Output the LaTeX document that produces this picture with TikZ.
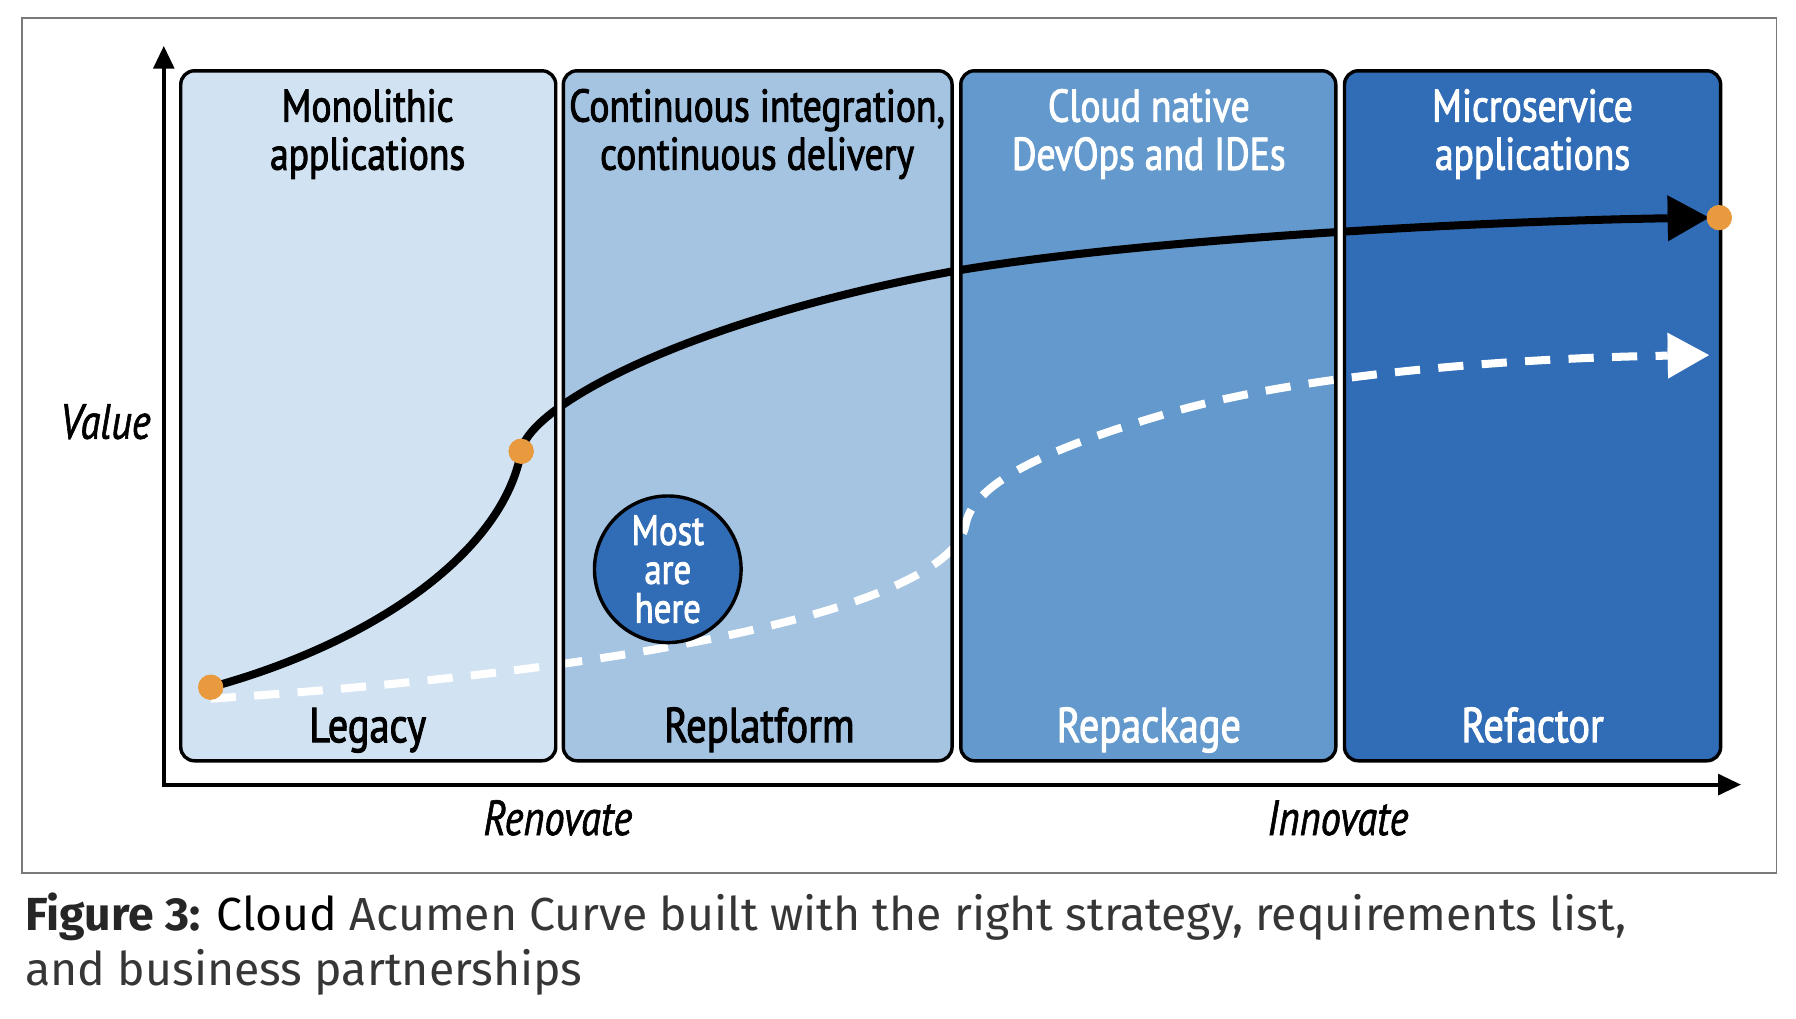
\documentclass[tikz,border=0pt]{standalone}
\usepackage{fontspec}
\usetikzlibrary{arrows.meta}
\newfontfamily\diag[FakeStretch=0.82, FakeBold=2]{PT Sans}
\newfontfamily\diagit[FakeStretch=0.82, FakeBold=1.2]{PT Sans Italic}
\newfontfamily\capfont{Fira Sans}
\definecolor{boxa}{HTML}{D1E3F2}
\definecolor{boxb}{HTML}{A4C4E2}
\definecolor{boxc}{HTML}{6399CC}
\definecolor{boxd}{HTML}{306DB6}
\definecolor{dotor}{HTML}{E99A3E}
\definecolor{framegray}{HTML}{7A7A7A}
\definecolor{capgray}{HTML}{363636}
\begin{document}
\begin{tikzpicture}[x=1pt,y=-1pt,
  boxfill/.style={rectangle, rounded corners=12pt, inner sep=0pt, minimum height=602pt},
  boxline/.style={draw=black, line width=3pt, rounded corners=12pt},
  ttl/.style={font=\diag\fontsize{40}{42}\selectfont, align=center, inner sep=0pt},
  lbl/.style={font=\diag\fontsize{43}{42}\selectfont, inner sep=0pt, anchor=base},
  axlbl/.style={font=\diagit\fontsize{43}{42}\selectfont, inner sep=0pt, anchor=base},
  dotnode/.style={circle, fill=dotor, minimum size=22pt, inner sep=0pt},
  curveline/.style={line width=7pt, line cap=butt},
  axisline/.style={line width=3.5pt, line join=miter}
]
\useasboundingbox[fill=white] (0,0) rectangle (1568,889);
\draw[framegray, line width=1.5pt] (19,16) rectangle (1551,762);

% box fills
\node[boxfill, fill=boxa, minimum width=327pt] (b1) at (321.5,363) {};
\node[boxfill, fill=boxb, minimum width=339pt] (b2) at (661.5,363) {};
\node[boxfill, fill=boxc, minimum width=327pt] (b3) at (1002.5,363) {};
\node[boxfill, fill=boxd, minimum width=328pt] (b4) at (1338,363) {};

% curves
\coordinate (ds) at (184,610);
\coordinate (tipA) at (1492,190);
\coordinate (tipB) at (1492,310);
\node[dotnode] (d1) at (184,600) {};
\node[dotnode] (d2) at (455,394) {};
\node[dotnode] (d3) at (1501,190) {};

\draw[white, curveline, dash pattern=on 22pt off 16pt, -{Triangle[length=36pt,width=40pt,line width=0.1pt]}]
  (ds) .. controls (560,585) and (830,530) .. (843,458)
       .. controls (850,420) and (920,390) .. (1019,361)
       .. controls (1149,323) and (1350,312) .. (tipB);
\draw[black, curveline, -{Triangle[length=36pt,width=40pt,line width=0.1pt]}]
  (d1.center) .. controls (330,560) and (440,480) .. (d2.center)
       .. controls (462,354) and (600,280) .. (831,237)
       .. controls (1000,208) and (1300,193) .. (tipA);

% gaps and borders
\fill[white] (b1.north east) rectangle (b2.south west);
\fill[white] (b2.north east) rectangle (b3.south west);
\fill[white] (b3.north east) rectangle (b4.south west);
\foreach \b in {b1,b2,b3,b4}{
  \draw[boxline] (\b.south west) rectangle (\b.north east);
}

% dots on top
\fill[dotor] (d1) circle (11pt);
\fill[dotor] (d2) circle (11pt);
\fill[dotor] (d3) circle (11pt);

% circle
\node[circle, draw=black, line width=3pt, fill=boxd, minimum size=128pt, inner sep=0pt,
      font=\diag\fontsize{37}{34}\selectfont, text=white, align=center] (most) at (583,497)
      {Most\\are\\here};

% axes
\coordinate (O) at (143,685);
\coordinate (ytip) at (143,40);
\coordinate (xtip) at (1520,685);
\draw[axisline, {Triangle[length=20pt,width=18pt]}-{Triangle[length=20pt,width=18pt]}] (ytip) -- (O) -- (xtip);

% titles
\node[ttl] (t1) at (321,117) {Monolithic\\applications};
\node[ttl] (t2) at (661,117) {Continuous integration,\\continuous delivery};
\node[ttl, text=white] (t3) at (1003,117) {Cloud native\\DevOps and IDEs};
\node[ttl, text=white] (t4) at (1338,117) {Microservice\\applications};

% bottom labels
\node[lbl] (l1) at (321,648) {Legacy};
\node[lbl] (l2) at (663,648) {Replatform};
\node[lbl, text=white] (l3) at (1003,648) {Repackage};
\node[lbl, text=white] (l4) at (1338,648) {Refactor};

% axis labels
\node[axlbl] (val) at (92,383) {Value};
\node[axlbl] (ren) at (487,729) {Renovate};
\node[axlbl] (inn) at (1168,729) {Innovate};

% caption
\node[anchor=north west, inner sep=0pt, align=left, text=capgray,
      font=\capfont\fontsize{40.5}{48}\selectfont] (cap) at (22,779)
  {{\bfseries\color{black!85}Figure 3:} {\color{black}Cloud} Acumen Curve built with the right strategy, requirements list,\\and business partnerships};
\end{tikzpicture}
\end{document}
